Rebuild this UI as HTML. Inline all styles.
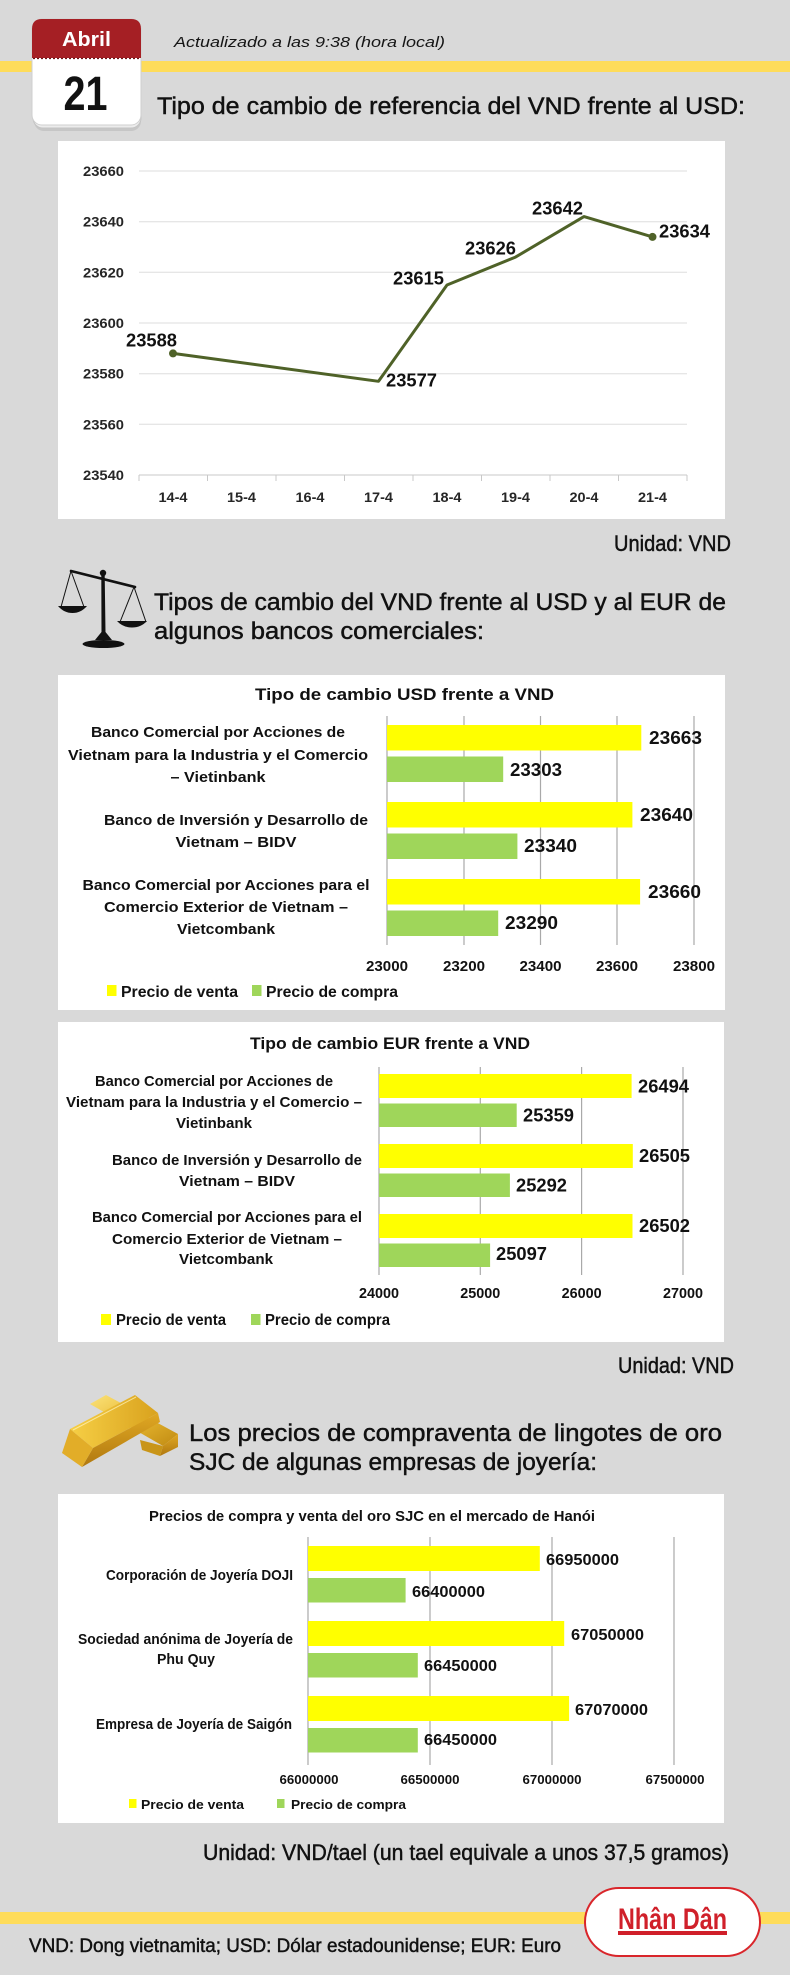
<!DOCTYPE html>
<html>
<head>
<meta charset="utf-8">
<style>
  html,body{margin:0;padding:0;background:#d9d9d9;}
  svg{display:block;}
  text{font-family:"Liberation Sans",sans-serif;}
  .hd{stroke:#111;stroke-width:0.45;}
</style>
</head>
<body>
<svg width="790" height="1975" viewBox="0 0 790 1975" xmlns="http://www.w3.org/2000/svg">
  <defs>
    <linearGradient id="gold1" x1="0" y1="0" x2="1" y2="1">
      <stop offset="0" stop-color="#fbe27a"/>
      <stop offset="0.5" stop-color="#e8b830"/>
      <stop offset="1" stop-color="#c08a12"/>
    </linearGradient>
    <linearGradient id="gold2" x1="0" y1="0" x2="0" y2="1">
      <stop offset="0" stop-color="#e0a823"/>
      <stop offset="1" stop-color="#b07810"/>
    </linearGradient>
    <linearGradient id="gold3" x1="0" y1="0" x2="1" y2="0">
      <stop offset="0" stop-color="#f6cf45"/>
      <stop offset="1" stop-color="#d9a21e"/>
    </linearGradient>
  </defs>

  <rect x="0" y="0" width="790" height="1975" fill="#d9d9d9"/>

  <!-- ===== HEADER ===== -->
  <rect x="0" y="61" width="790" height="11" fill="#fedc5a"/>
  <rect x="34" y="25" width="107" height="106" rx="10" fill="#c6c6c6"/>
  <rect x="33" y="22" width="108" height="106" rx="10" fill="#ececec" stroke="#c4c4c4" stroke-width="1"/>
  <rect x="32" y="19" width="109" height="106" rx="10" fill="#ffffff" stroke="#cfcfcf" stroke-width="1"/>
  <path d="M32,58 V29 Q32,19 42,19 H131 Q141,19 141,29 V58 Z" fill="#a51f24"/>
  <line x1="33" y1="58.5" x2="140" y2="58.5" stroke="#6e1316" stroke-width="1.2" stroke-dasharray="2 2"/>
  <text x="86.5" y="46" font-size="20" font-weight="bold" fill="#ffffff" text-anchor="middle" textLength="49" lengthAdjust="spacingAndGlyphs">Abril</text>
  <text x="85.5" y="110" font-size="48" font-weight="bold" fill="#111" text-anchor="middle" textLength="44" lengthAdjust="spacingAndGlyphs">21</text>

  <text x="174" y="47" font-size="15" font-style="italic" fill="#151515" textLength="271" lengthAdjust="spacingAndGlyphs">Actualizado a las 9:38 (hora local)</text>
  <text class="hd" x="157" y="114" font-size="24" fill="#111" textLength="588" lengthAdjust="spacingAndGlyphs">Tipo de cambio de referencia del VND frente al USD:</text>

  <!-- ===== CHART 1: line ===== -->
  <rect x="58" y="141" width="667" height="378" fill="#ffffff"/>
  <g stroke="#dedede" stroke-width="1">
    <line x1="139" y1="171" x2="687" y2="171"/>
    <line x1="139" y1="221.7" x2="687" y2="221.7"/>
    <line x1="139" y1="272.3" x2="687" y2="272.3"/>
    <line x1="139" y1="323" x2="687" y2="323"/>
    <line x1="139" y1="373.7" x2="687" y2="373.7"/>
    <line x1="139" y1="424.3" x2="687" y2="424.3"/>
  </g>
  <g stroke="#c8c8c8" stroke-width="1">
    <line x1="139" y1="475" x2="687" y2="475"/>
    <line x1="139" y1="475" x2="139" y2="481"/>
    <line x1="207.5" y1="475" x2="207.5" y2="481"/>
    <line x1="276" y1="475" x2="276" y2="481"/>
    <line x1="344.5" y1="475" x2="344.5" y2="481"/>
    <line x1="413" y1="475" x2="413" y2="481"/>
    <line x1="481.5" y1="475" x2="481.5" y2="481"/>
    <line x1="550" y1="475" x2="550" y2="481"/>
    <line x1="618.5" y1="475" x2="618.5" y2="481"/>
    <line x1="687" y1="475" x2="687" y2="481"/>
  </g>
  <g font-size="14" font-weight="bold" fill="#262626" text-anchor="end">
    <text x="124" y="176" textLength="41" lengthAdjust="spacingAndGlyphs">23660</text>
    <text x="124" y="226.7" textLength="41" lengthAdjust="spacingAndGlyphs">23640</text>
    <text x="124" y="277.3" textLength="41" lengthAdjust="spacingAndGlyphs">23620</text>
    <text x="124" y="328" textLength="41" lengthAdjust="spacingAndGlyphs">23600</text>
    <text x="124" y="378.7" textLength="41" lengthAdjust="spacingAndGlyphs">23580</text>
    <text x="124" y="429.3" textLength="41" lengthAdjust="spacingAndGlyphs">23560</text>
    <text x="124" y="480" textLength="41" lengthAdjust="spacingAndGlyphs">23540</text>
  </g>
  <g font-size="14" font-weight="bold" fill="#262626" text-anchor="middle">
    <text x="173" y="502" textLength="29" lengthAdjust="spacingAndGlyphs">14-4</text>
    <text x="241.5" y="502" textLength="29" lengthAdjust="spacingAndGlyphs">15-4</text>
    <text x="310" y="502" textLength="29" lengthAdjust="spacingAndGlyphs">16-4</text>
    <text x="378.5" y="502" textLength="29" lengthAdjust="spacingAndGlyphs">17-4</text>
    <text x="447" y="502" textLength="29" lengthAdjust="spacingAndGlyphs">18-4</text>
    <text x="515.5" y="502" textLength="29" lengthAdjust="spacingAndGlyphs">19-4</text>
    <text x="584" y="502" textLength="29" lengthAdjust="spacingAndGlyphs">20-4</text>
    <text x="652.5" y="502" textLength="29" lengthAdjust="spacingAndGlyphs">21-4</text>
  </g>
  <polyline points="173,353.4 378.5,381.3 447,285 515.5,257.1 584,216.6 652.5,236.9" fill="none" stroke="#4f6228" stroke-width="3" stroke-linejoin="round"/>
  <circle cx="173" cy="353.4" r="4" fill="#4f6228"/>
  <circle cx="652.5" cy="236.9" r="4" fill="#4f6228"/>
  <g font-size="18" font-weight="bold" fill="#111">
    <text x="126" y="346.5" textLength="51" lengthAdjust="spacingAndGlyphs">23588</text>
    <text x="386" y="386.5" textLength="51" lengthAdjust="spacingAndGlyphs">23577</text>
    <text x="393" y="284.5" textLength="51" lengthAdjust="spacingAndGlyphs">23615</text>
    <text x="465" y="254.5" textLength="51" lengthAdjust="spacingAndGlyphs">23626</text>
    <text x="532" y="214.5" textLength="51" lengthAdjust="spacingAndGlyphs">23642</text>
    <text x="659" y="237.5" textLength="51" lengthAdjust="spacingAndGlyphs">23634</text>
  </g>
  <text class="hd" x="731" y="551" font-size="22" fill="#111" text-anchor="end" textLength="117" lengthAdjust="spacingAndGlyphs">Unidad: VND</text>

  <!-- ===== SECTION 2 HEADER ===== -->
  <g>
    <line x1="71" y1="571" x2="135" y2="587" stroke="#111" stroke-width="2.6" stroke-linecap="round"/>
    <circle cx="103" cy="573" r="3.2" fill="#111"/>
    <path d="M101.3,575 L104.7,575 L105.5,632 L112,640 L95,640 L101.5,632 Z" fill="#111"/>
    <ellipse cx="103.5" cy="644" rx="21" ry="4" fill="#111"/>
    <line x1="71" y1="571" x2="61" y2="607" stroke="#111" stroke-width="1"/>
    <line x1="71" y1="571" x2="84" y2="607" stroke="#111" stroke-width="1"/>
    <path d="M58,606 L87,606 Q81,613 72.5,613 Q64,613 58,606 Z" fill="#111"/>
    <line x1="134" y1="587" x2="120" y2="622" stroke="#111" stroke-width="1"/>
    <line x1="134" y1="587" x2="146" y2="622" stroke="#111" stroke-width="1"/>
    <path d="M117,621 L147,621 Q141,627.5 132,627.5 Q123,627.5 117,621 Z" fill="#111"/>
  </g>
  <text class="hd" x="154" y="610" font-size="24" fill="#111" textLength="572" lengthAdjust="spacingAndGlyphs">Tipos de cambio del VND frente al USD y al EUR de</text>
  <text class="hd" x="154" y="639" font-size="24" fill="#111" textLength="330" lengthAdjust="spacingAndGlyphs">algunos bancos comerciales:</text>

  <!-- ===== CHART 2: USD bars ===== -->
  <rect x="58" y="675" width="667" height="335" fill="#ffffff"/>
  <text x="404.5" y="700" font-size="17" font-weight="bold" fill="#111" text-anchor="middle" textLength="299" lengthAdjust="spacingAndGlyphs">Tipo de cambio USD frente a VND</text>
  <g stroke="#a9a9a9" stroke-width="1.2">
    <line x1="387" y1="716" x2="387" y2="945"/>
    <line x1="464" y1="716" x2="464" y2="945"/>
    <line x1="540.5" y1="716" x2="540.5" y2="945"/>
    <line x1="617" y1="716" x2="617" y2="945"/>
    <line x1="694" y1="716" x2="694" y2="945"/>
  </g>
  <g>
    <rect x="387" y="725" width="254.3" height="25.5" fill="#ffff00"/>
    <rect x="387" y="756.5" width="116.2" height="25.5" fill="#9fd65a"/>
    <rect x="387" y="802" width="245.4" height="25.5" fill="#ffff00"/>
    <rect x="387" y="833.5" width="130.4" height="25.5" fill="#9fd65a"/>
    <rect x="387" y="879" width="253.1" height="25.5" fill="#ffff00"/>
    <rect x="387" y="910.5" width="111.2" height="25.5" fill="#9fd65a"/>
  </g>
  <g font-size="18" font-weight="bold" fill="#111">
    <text x="649" y="744" textLength="53" lengthAdjust="spacingAndGlyphs">23663</text>
    <text x="510" y="776" textLength="52" lengthAdjust="spacingAndGlyphs">23303</text>
    <text x="640" y="821" textLength="53" lengthAdjust="spacingAndGlyphs">23640</text>
    <text x="524" y="852" textLength="53" lengthAdjust="spacingAndGlyphs">23340</text>
    <text x="648" y="898" textLength="53" lengthAdjust="spacingAndGlyphs">23660</text>
    <text x="505" y="929" textLength="53" lengthAdjust="spacingAndGlyphs">23290</text>
  </g>
  <g font-size="15" font-weight="bold" fill="#111" text-anchor="middle">
    <text x="218" y="737" textLength="254" lengthAdjust="spacingAndGlyphs">Banco Comercial por Acciones de</text>
    <text x="218" y="760" textLength="300" lengthAdjust="spacingAndGlyphs">Vietnam para la Industria y el Comercio</text>
    <text x="218" y="782" textLength="95" lengthAdjust="spacingAndGlyphs">– Vietinbank</text>
    <text x="236" y="825" textLength="264" lengthAdjust="spacingAndGlyphs">Banco de Inversión y Desarrollo de</text>
    <text x="236" y="847" textLength="121" lengthAdjust="spacingAndGlyphs">Vietnam – BIDV</text>
    <text x="226" y="890" textLength="287" lengthAdjust="spacingAndGlyphs">Banco Comercial por Acciones para el</text>
    <text x="226" y="912" textLength="244" lengthAdjust="spacingAndGlyphs">Comercio Exterior de Vietnam –</text>
    <text x="226" y="934" textLength="98" lengthAdjust="spacingAndGlyphs">Vietcombank</text>
  </g>
  <g font-size="15" font-weight="bold" fill="#111" text-anchor="middle">
    <text x="387" y="971" textLength="42" lengthAdjust="spacingAndGlyphs">23000</text>
    <text x="464" y="971" textLength="42" lengthAdjust="spacingAndGlyphs">23200</text>
    <text x="540.5" y="971" textLength="42" lengthAdjust="spacingAndGlyphs">23400</text>
    <text x="617" y="971" textLength="42" lengthAdjust="spacingAndGlyphs">23600</text>
    <text x="694" y="971" textLength="42" lengthAdjust="spacingAndGlyphs">23800</text>
  </g>
  <rect x="107" y="985" width="9.5" height="11" fill="#ffff00"/>
  <text x="121" y="997" font-size="16" font-weight="bold" fill="#111" textLength="117" lengthAdjust="spacingAndGlyphs">Precio de venta</text>
  <rect x="252" y="985" width="9.5" height="11" fill="#9fd65a"/>
  <text x="266" y="997" font-size="16" font-weight="bold" fill="#111" textLength="132" lengthAdjust="spacingAndGlyphs">Precio de compra</text>

  <!-- ===== CHART 3: EUR bars ===== -->
  <rect x="58" y="1022" width="666" height="320" fill="#ffffff"/>
  <text x="390" y="1049" font-size="17" font-weight="bold" fill="#111" text-anchor="middle" textLength="280" lengthAdjust="spacingAndGlyphs">Tipo de cambio EUR frente a VND</text>
  <g stroke="#a9a9a9" stroke-width="1.2">
    <line x1="379" y1="1067" x2="379" y2="1275"/>
    <line x1="480.3" y1="1067" x2="480.3" y2="1275"/>
    <line x1="581.6" y1="1067" x2="581.6" y2="1275"/>
    <line x1="683" y1="1067" x2="683" y2="1275"/>
  </g>
  <g>
    <rect x="379" y="1074" width="252.6" height="24" fill="#ffff00"/>
    <rect x="379" y="1103.5" width="137.7" height="23.5" fill="#9fd65a"/>
    <rect x="379" y="1144" width="253.8" height="24" fill="#ffff00"/>
    <rect x="379" y="1173.5" width="130.9" height="23.5" fill="#9fd65a"/>
    <rect x="379" y="1214" width="253.5" height="24" fill="#ffff00"/>
    <rect x="379" y="1243.5" width="111.1" height="23.5" fill="#9fd65a"/>
  </g>
  <g font-size="18" font-weight="bold" fill="#111">
    <text x="638" y="1092.5" textLength="51" lengthAdjust="spacingAndGlyphs">26494</text>
    <text x="523" y="1121.5" textLength="51" lengthAdjust="spacingAndGlyphs">25359</text>
    <text x="639" y="1162" textLength="51" lengthAdjust="spacingAndGlyphs">26505</text>
    <text x="516" y="1191.5" textLength="51" lengthAdjust="spacingAndGlyphs">25292</text>
    <text x="639" y="1232" textLength="51" lengthAdjust="spacingAndGlyphs">26502</text>
    <text x="496" y="1260" textLength="51" lengthAdjust="spacingAndGlyphs">25097</text>
  </g>
  <g font-size="15" font-weight="bold" fill="#111" text-anchor="middle">
    <text x="214" y="1086" textLength="238" lengthAdjust="spacingAndGlyphs">Banco Comercial por Acciones de</text>
    <text x="214" y="1107" textLength="296" lengthAdjust="spacingAndGlyphs">Vietnam para la Industria y el Comercio –</text>
    <text x="214" y="1128" textLength="76" lengthAdjust="spacingAndGlyphs">Vietinbank</text>
    <text x="237" y="1165" textLength="250" lengthAdjust="spacingAndGlyphs">Banco de Inversión y Desarrollo de</text>
    <text x="237" y="1186" textLength="116" lengthAdjust="spacingAndGlyphs">Vietnam – BIDV</text>
    <text x="227" y="1222" textLength="270" lengthAdjust="spacingAndGlyphs">Banco Comercial por Acciones para el</text>
    <text x="227" y="1244" textLength="230" lengthAdjust="spacingAndGlyphs">Comercio Exterior de Vietnam –</text>
    <text x="226" y="1264" textLength="94" lengthAdjust="spacingAndGlyphs">Vietcombank</text>
  </g>
  <g font-size="15" font-weight="bold" fill="#111" text-anchor="middle">
    <text x="379" y="1298" textLength="40" lengthAdjust="spacingAndGlyphs">24000</text>
    <text x="480.3" y="1298" textLength="40" lengthAdjust="spacingAndGlyphs">25000</text>
    <text x="581.6" y="1298" textLength="40" lengthAdjust="spacingAndGlyphs">26000</text>
    <text x="683" y="1298" textLength="40" lengthAdjust="spacingAndGlyphs">27000</text>
  </g>
  <rect x="101" y="1314" width="10" height="11" fill="#ffff00"/>
  <text x="116" y="1325" font-size="16" font-weight="bold" fill="#111" textLength="110" lengthAdjust="spacingAndGlyphs">Precio de venta</text>
  <rect x="251" y="1314" width="9.5" height="11" fill="#9fd65a"/>
  <text x="265" y="1325" font-size="16" font-weight="bold" fill="#111" textLength="125" lengthAdjust="spacingAndGlyphs">Precio de compra</text>

  <text class="hd" x="734" y="1373" font-size="22" fill="#111" text-anchor="end" textLength="116" lengthAdjust="spacingAndGlyphs">Unidad: VND</text>

  <!-- ===== SECTION 3 HEADER ===== -->
  <g>
    <polygon points="90,1404 106,1395 178,1434 163,1446" fill="url(#gold1)"/>
    <polygon points="163,1446 178,1434 178,1447 160,1456" fill="url(#gold2)"/>
    <polygon points="140,1440 163,1446 160,1456 142,1450" fill="#c99518"/>
    <polygon points="70,1429 135,1395 158,1413 93,1448" fill="url(#gold3)"/>
    <polygon points="93,1448 158,1413 160,1422 82,1467" fill="url(#gold2)"/>
    <polygon points="70,1429 93,1448 82,1467 62,1453" fill="#e2ad28"/>
    <line x1="73" y1="1430" x2="136" y2="1397" stroke="#fff6c0" stroke-width="1" opacity="0.7"/>
  </g>
  <text class="hd" x="189" y="1441" font-size="24" fill="#111" textLength="533" lengthAdjust="spacingAndGlyphs">Los precios de compraventa de lingotes de oro</text>
  <text class="hd" x="189" y="1470" font-size="24" fill="#111" textLength="408" lengthAdjust="spacingAndGlyphs">SJC de algunas empresas de joyería:</text>

  <!-- ===== CHART 4: gold bars ===== -->
  <rect x="58" y="1494" width="666" height="329" fill="#ffffff"/>
  <text x="372" y="1521" font-size="15" font-weight="bold" fill="#111" text-anchor="middle" textLength="446" lengthAdjust="spacingAndGlyphs">Precios de compra y venta del oro SJC en el mercado de Hanói</text>
  <g stroke="#a9a9a9" stroke-width="1.2">
    <line x1="308" y1="1537" x2="308" y2="1765"/>
    <line x1="430" y1="1537" x2="430" y2="1765"/>
    <line x1="552" y1="1537" x2="552" y2="1765"/>
    <line x1="674" y1="1537" x2="674" y2="1765"/>
  </g>
  <g>
    <rect x="308" y="1546" width="231.8" height="25" fill="#ffff00"/>
    <rect x="308" y="1578" width="97.6" height="24.5" fill="#9fd65a"/>
    <rect x="308" y="1621" width="256.2" height="25" fill="#ffff00"/>
    <rect x="308" y="1653" width="109.8" height="24.5" fill="#9fd65a"/>
    <rect x="308" y="1696" width="261.1" height="25" fill="#ffff00"/>
    <rect x="308" y="1728" width="109.8" height="24.5" fill="#9fd65a"/>
  </g>
  <g font-size="16" font-weight="bold" fill="#111">
    <text x="546" y="1565" textLength="73" lengthAdjust="spacingAndGlyphs">66950000</text>
    <text x="412" y="1597" textLength="73" lengthAdjust="spacingAndGlyphs">66400000</text>
    <text x="571" y="1640" textLength="73" lengthAdjust="spacingAndGlyphs">67050000</text>
    <text x="424" y="1671" textLength="73" lengthAdjust="spacingAndGlyphs">66450000</text>
    <text x="575" y="1715" textLength="73" lengthAdjust="spacingAndGlyphs">67070000</text>
    <text x="424" y="1745" textLength="73" lengthAdjust="spacingAndGlyphs">66450000</text>
  </g>
  <g font-size="15" font-weight="bold" fill="#111" text-anchor="middle">
    <text x="199.5" y="1580" textLength="187" lengthAdjust="spacingAndGlyphs">Corporación de Joyería DOJI</text>
    <text x="185.5" y="1644" textLength="215" lengthAdjust="spacingAndGlyphs">Sociedad anónima de Joyería de</text>
    <text x="186" y="1664" textLength="58" lengthAdjust="spacingAndGlyphs">Phu Quy</text>
    <text x="194" y="1729" textLength="196" lengthAdjust="spacingAndGlyphs">Empresa de Joyería de Saigón</text>
  </g>
  <g font-size="13" font-weight="bold" fill="#111" text-anchor="middle">
    <text x="309" y="1784" textLength="59" lengthAdjust="spacingAndGlyphs">66000000</text>
    <text x="430" y="1784" textLength="59" lengthAdjust="spacingAndGlyphs">66500000</text>
    <text x="552" y="1784" textLength="59" lengthAdjust="spacingAndGlyphs">67000000</text>
    <text x="675" y="1784" textLength="59" lengthAdjust="spacingAndGlyphs">67500000</text>
  </g>
  <rect x="129" y="1799" width="7.5" height="9" fill="#ffff00"/>
  <text x="141" y="1809" font-size="13" font-weight="bold" fill="#111" textLength="103" lengthAdjust="spacingAndGlyphs">Precio de venta</text>
  <rect x="277" y="1799" width="7.5" height="9" fill="#9fd65a"/>
  <text x="291" y="1809" font-size="13" font-weight="bold" fill="#111" textLength="115" lengthAdjust="spacingAndGlyphs">Precio de compra</text>

  <text class="hd" x="729" y="1860" font-size="22" fill="#111" text-anchor="end" textLength="526" lengthAdjust="spacingAndGlyphs">Unidad: VND/tael (un tael equivale a unos 37,5 gramos)</text>

  <!-- ===== FOOTER ===== -->
  <rect x="0" y="1912" width="790" height="12" fill="#fedc5a"/>
  <rect x="585" y="1888" width="175" height="68" rx="34" fill="#ffffff" stroke="#d9262b" stroke-width="2"/>
  <text x="618" y="1929" font-size="30" font-weight="bold" fill="#d0202a" textLength="109" lengthAdjust="spacingAndGlyphs">Nhân Dân</text>
  <rect x="618" y="1931" width="109" height="4" fill="#d0202a"/>
  <text class="hd" x="29" y="1952" font-size="19" fill="#111" textLength="532" lengthAdjust="spacingAndGlyphs">VND: Dong vietnamita; USD: Dólar estadounidense; EUR: Euro</text>
</svg>
</body>
</html>
